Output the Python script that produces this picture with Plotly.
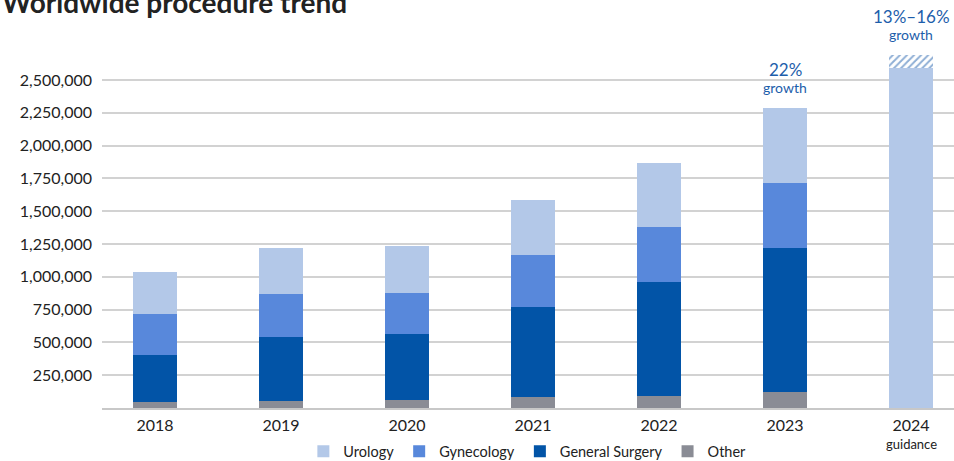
import plotly.graph_objects as go

years = ["2018", "2019", "2020", "2021", "2022", "2023", "2024"]
other = [48000, 56000, 63000, 86000, 94000, 124000, None]
general_surgery = [358000, 487000, 503000, 686000, 868000, 1097000, None]
gynecology = [312000, 327000, 312000, 396000, 419000, 495000, None]
urology = [315000, 351000, 358000, 418000, 487000, 572000, None]
guidance_low = [None, None, None, None, None, None, 2589000]
guidance_range = [None, None, None, None, None, None, 101000]
growth_labels = {"2023": "22%", "2024": "13%–16%"}
tick_vals = [250000, 500000, 750000, 1000000, 1250000, 1500000, 1750000,
             2000000, 2250000, 2500000]

FONT = "Lato"
C_URO = "#b3c8e8"
C_GYN = "#5888db"
C_GS = "#0254a7"
C_OTH = "#8a8c95"
C_ANN = "#1d5eab"
BW = 0.35

fig = go.Figure()
fig.add_bar(x=years, y=other, name="Other", marker=dict(color=C_OTH, line_width=0), width=BW)
fig.add_bar(x=years, y=general_surgery, name="General Surgery", marker=dict(color=C_GS, line_width=0), width=BW)
fig.add_bar(x=years, y=gynecology, name="Gynecology", marker=dict(color=C_GYN, line_width=0), width=BW)
fig.add_bar(x=years, y=urology, name="Urology", marker=dict(color=C_URO, line_width=0), width=BW)
fig.add_bar(x=years, y=guidance_low, name="2024 guidance", showlegend=False,
            marker=dict(color=C_URO, line_width=0), width=BW)
fig.add_bar(x=years, y=guidance_range, name="guidance range", showlegend=False,
            marker=dict(color="white", line_width=0,
                        pattern=dict(shape="/", fgcolor=C_ANN, bgcolor="white",
                                     size=5, solidity=0.4)), width=BW)

totals = {}
for i, yr in enumerate(years):
    vals = [v for v in (other[i], general_surgery[i], gynecology[i], urology[i]) if v]
    totals[yr] = sum(vals)
totals["2024"] = guidance_low[6] + guidance_range[6]

for yr, lab in growth_labels.items():
    xi = years.index(yr)
    fig.add_annotation(x=xi, y=totals[yr], xref="x", yref="y", text=lab,
                       showarrow=False, yanchor="bottom", yshift=26,
                       font=dict(family=FONT, size=17, color=C_ANN))
    fig.add_annotation(x=xi, y=totals[yr], xref="x", yref="y", text="growth",
                       showarrow=False, yanchor="bottom", yshift=10,
                       font=dict(family=FONT, size=14, color=C_ANN))

fig.add_annotation(x=years.index("2024"), y=0, xref="x", yref="y", text="guidance",
                   showarrow=False, yanchor="top", yshift=-26,
                   font=dict(family=FONT, size=13, color="#222222"))

fig.add_annotation(x=0, y=1, xref="paper", yref="paper", xanchor="left", yanchor="middle",
                   text="<b>Worldwide procedure trend</b>", showarrow=False,
                   xshift=-102, yshift=52,
                   font=dict(family=FONT, size=28, color="#222222"))

fig.update_layout(
    width=954, height=461,
    margin=dict(l=102, r=0, t=54, b=53, autoexpand=False),
    barmode="stack",
    plot_bgcolor="white", paper_bgcolor="white",
    font=dict(family=FONT, size=16, color="#222222"),
    legend=dict(orientation="h", traceorder="reversed",
                xref="container", yref="container",
                x=0.318, xanchor="left", y=0.021, yanchor="middle",
                font=dict(family=FONT, size=14.5, color="#222222")),
    xaxis=dict(type="category", range=[-0.421, 6.341], showgrid=False,
               showline=True, linecolor="#c8c8c8", linewidth=2, ticks="",
               automargin=False, ticklabelstandoff=2, tickfont=dict(size=16)),
    yaxis=dict(range=[0, 2698000], tickvals=tick_vals, tickformat=",",
               showgrid=True, gridcolor="#d2d2d2", gridwidth=1.5,
               zeroline=False, showline=False, ticks="", ticklabelstandoff=9,
               automargin=False, tickfont=dict(size=16)),
    showlegend=True,
)

fig.write_html("out.html", config={"displayModeBar": False},
               post_script="document.body.style.margin='0';")
